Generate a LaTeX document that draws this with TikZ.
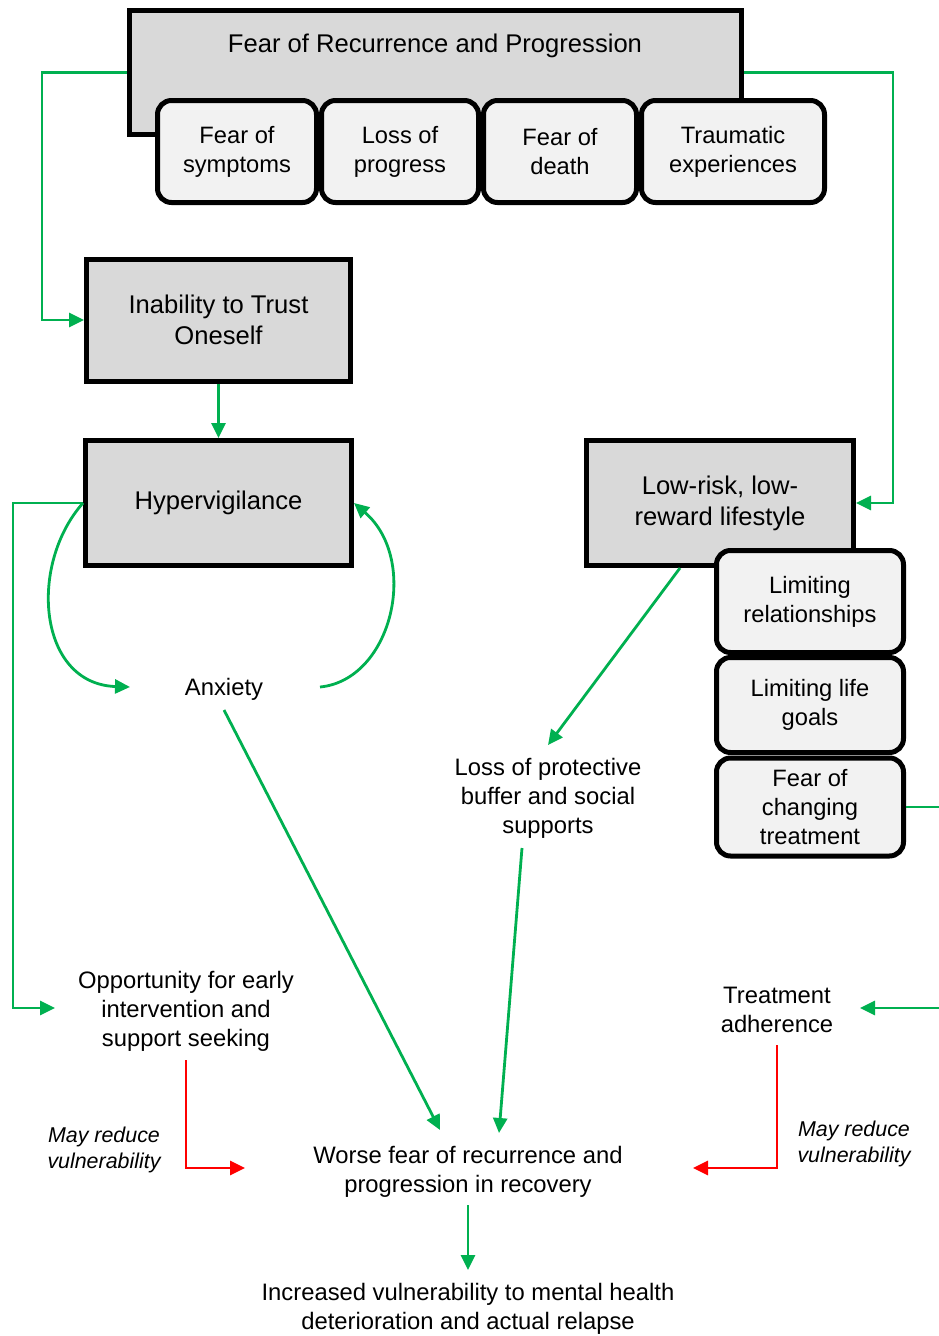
\documentclass[tikz,border=0pt]{standalone}
\usepackage{fontspec}
\setmainfont{Liberation Sans}
\usetikzlibrary{arrows.meta,calc}
\definecolor{grn}{HTML}{00B050}
\definecolor{rd}{HTML}{FF0000}
\definecolor{boxgray}{HTML}{D9D9D9}
\definecolor{subgray}{HTML}{F2F2F2}
\begin{document}
\begin{tikzpicture}[x=1pt,y=-1pt,
 mainbox/.style={draw=black, line width=5pt, fill=boxgray, inner sep=0pt, align=center, font=\fontsize{25.6}{31}\selectfont},
 maintext/.style={inner sep=0pt, align=center, font=\fontsize{25.6}{31}\selectfont},
 subbox/.style={draw=black, line width=5pt, fill=subgray, rounded corners=14pt, inner sep=0pt, align=center, font=\fontsize{23.7}{29}\selectfont},
 txt/.style={inner sep=2pt, align=center, font=\fontsize{23.8}{29}\selectfont},
 itxt/.style={inner sep=2pt, align=center, font=\fontsize{21.4}{26}\selectfont\itshape},
 garrow/.style={draw=grn, line width=2.8pt, -{Triangle[length=15pt,width=14pt]}},
 rarrow/.style={draw=rd, line width=2.8pt, -{Triangle[length=15pt,width=14pt]}},
]
\useasboundingbox (0,0) rectangle (939,1336);

% top box
\node[mainbox, minimum width=612, minimum height=124] (frp) at (435.5,72.5) {};
\node[maintext] (frptext) at (435,46) {Fear of Recurrence and Progression};
\node[subbox, minimum width=159, minimum height=102] (sym) at (237,151.5) {Fear of\\symptoms};
\node[subbox, minimum width=157, minimum height=102] (prog) at (400,151.5) {Loss of\\progress};
\node[subbox, minimum width=153, minimum height=102] (death) at (560,151.5) {Fear of\\death};
\node[subbox, minimum width=183, minimum height=102] (trauma) at (733,151.5) {Traumatic\\experiences};

% left column
\node[mainbox, minimum width=264, minimum height=122] (inab) at (218.5,320) {Inability to Trust\\Oneself};
\node[mainbox, minimum width=266, minimum height=125] (hyp) at (218.5,503) {Hypervigilance};
\node[txt] (anx) at (224,689) {Anxiety};

% right column
\node[mainbox, minimum width=267, minimum height=125] (low) at (720,503) {Low-risk, low-\\reward lifestyle};
\node[subbox, minimum width=187, minimum height=102] (rel) at (810,601.5) {Limiting\\relationships};
\node[subbox, minimum width=187, minimum height=95] (life) at (810,705) {Limiting life\\goals};
\node[subbox, minimum width=187, minimum height=98] (fct) at (810,807) {Fear of\\changing\\treatment};

% free texts
\node[txt] (loss) at (548,798) {Loss of protective\\buffer and social\\supports};
\node[txt] (opp) at (186,1011) {Opportunity for early\\intervention and\\support seeking};
\node[txt] (ta) at (777,1010) {Treatment\\adherence};
\node[itxt] (mr1) at (104,1150) {May reduce\\vulnerability};
\node[itxt] (mr2) at (854,1143.5) {May reduce\\vulnerability};
\node[txt] (worse) at (468,1172) {Worse fear of recurrence and\\progression in recovery};
\node[txt] (incr) at (468,1309) {Increased vulnerability to mental health\\deterioration and actual relapse};

% connectors
\draw[garrow] (frp.west) -- ++(-85,0) |- (inab.west);
\draw[garrow] (frp.east) -- ++(149,0) |- (low.east);
\draw[garrow] (inab.south) -- (hyp.north);
\draw[garrow] (hyp.west) -- ++(-70,0) |- ($(opp)+(-131,-3)$);
\draw[garrow] (hyp.west) .. controls (28,565) and (38,684) .. ($(anx)+(-94,-2)$);
\draw[garrow] ($(anx)+(96,-2)$) .. controls (392,680) and (420,560) .. (hyp.east);
\draw[garrow] ($(anx)+(0,21)$) -- ($(worse)+(-28,-42)$);
\draw[garrow] ($(low.south)+(-40,0)$) -- ($(loss)+(0,-53)$);
\draw[garrow] ($(loss)+(-26,50)$) -- ($(worse)+(31,-39)$);
\draw[garrow] ($(worse)+(0,33)$) -- ($(incr)+(0,-39)$);
\draw[garrow] (fct.east) -- ++(41,0) |- ($(ta)+(83,-2)$);
\draw[rarrow] ($(opp)+(0,49)$) |- ($(worse)+(-223,-4)$);
\draw[rarrow] ($(ta)+(0,35)$) |- ($(worse)+(225,-4)$);
\end{tikzpicture}
\end{document}
